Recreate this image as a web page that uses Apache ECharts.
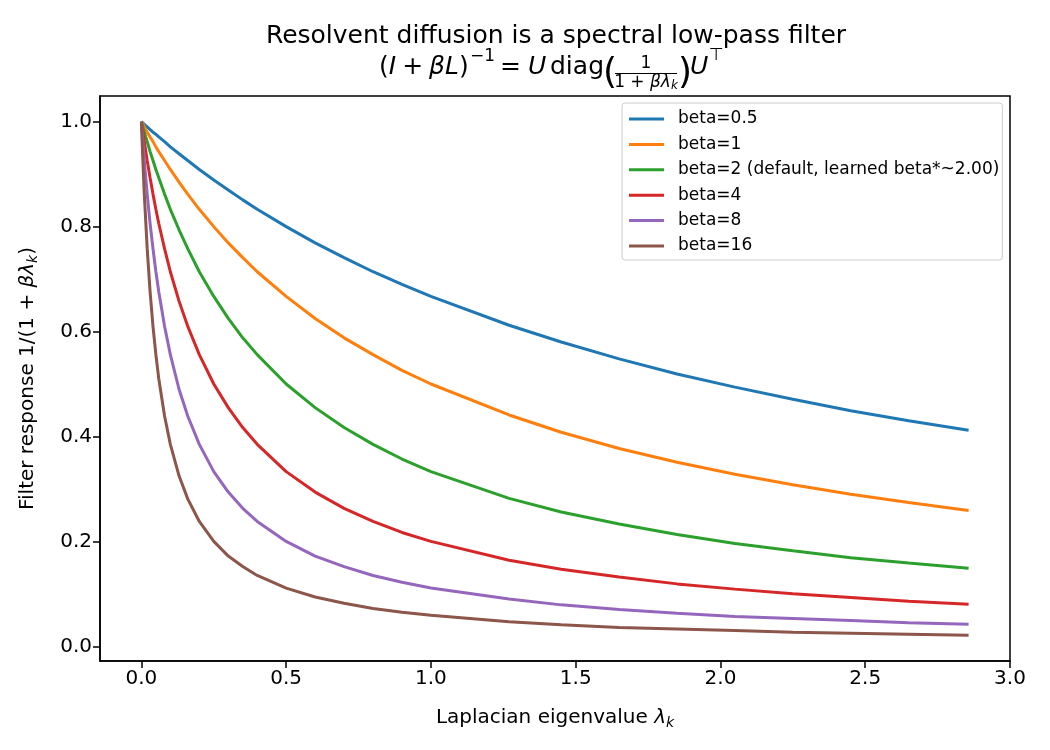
<!DOCTYPE html>
<html>
<head>
<meta charset="utf-8">
<script src="https://cdn.jsdelivr.net/npm/echarts@6/dist/echarts.min.js"></script>
<style>
html,body{margin:0;padding:0;background:#fff;}
#chart{width:1050px;height:750px;}
</style>
</head>
<body>
<div id="chart"></div>
<script>
// eigenvalues along x
var lambdas = [0, 0.005, 0.01, 0.02, 0.03, 0.04, 0.05, 0.06, 0.08, 0.1, 0.13, 0.16, 0.2, 0.25, 0.3, 0.35, 0.4, 0.5, 0.6, 0.7, 0.8, 0.9, 1.0, 1.27, 1.45, 1.65, 1.85, 2.05, 2.25, 2.45, 2.65, 2.857];
// filter response per beta
var beta05 = [1, 0.998, 0.995, 0.990, 0.985, 0.980, 0.976, 0.971, 0.962, 0.952, 0.939, 0.926, 0.909, 0.889, 0.870, 0.851, 0.833, 0.800, 0.769, 0.741, 0.714, 0.690, 0.667, 0.612, 0.580, 0.548, 0.519, 0.494, 0.471, 0.449, 0.430, 0.412];
var beta1 = [1, 0.995, 0.990, 0.980, 0.971, 0.962, 0.952, 0.943, 0.926, 0.909, 0.885, 0.862, 0.833, 0.800, 0.769, 0.741, 0.714, 0.667, 0.625, 0.588, 0.556, 0.526, 0.500, 0.441, 0.408, 0.377, 0.351, 0.328, 0.308, 0.290, 0.274, 0.259];
var beta2 = [1, 0.990, 0.980, 0.962, 0.943, 0.926, 0.909, 0.893, 0.862, 0.833, 0.794, 0.758, 0.714, 0.667, 0.625, 0.588, 0.556, 0.500, 0.455, 0.417, 0.385, 0.357, 0.333, 0.282, 0.256, 0.233, 0.213, 0.196, 0.182, 0.169, 0.159, 0.149];
var beta4 = [1, 0.980, 0.962, 0.926, 0.893, 0.862, 0.833, 0.806, 0.758, 0.714, 0.658, 0.610, 0.556, 0.500, 0.455, 0.417, 0.385, 0.333, 0.294, 0.263, 0.238, 0.217, 0.200, 0.164, 0.147, 0.132, 0.119, 0.109, 0.100, 0.093, 0.086, 0.080];
var beta8 = [1, 0.962, 0.926, 0.862, 0.806, 0.758, 0.714, 0.676, 0.610, 0.556, 0.490, 0.439, 0.385, 0.333, 0.294, 0.263, 0.238, 0.200, 0.172, 0.152, 0.135, 0.122, 0.111, 0.090, 0.079, 0.070, 0.063, 0.057, 0.053, 0.049, 0.045, 0.042];
var beta16 = [1, 0.926, 0.862, 0.758, 0.676, 0.610, 0.556, 0.510, 0.439, 0.385, 0.325, 0.281, 0.238, 0.200, 0.172, 0.152, 0.135, 0.111, 0.094, 0.082, 0.072, 0.065, 0.059, 0.047, 0.041, 0.036, 0.033, 0.030, 0.027, 0.025, 0.023, 0.021];

var seriesNames = ['beta=0.5', 'beta=1', 'beta=2 (default, learned beta*~2.00)', 'beta=4', 'beta=8', 'beta=16'];
var seriesValues = [beta05, beta1, beta2, beta4, beta8, beta16];
var colors = ['#1f77b4', '#ff7f0e', '#2ca02c', '#d62728', '#9467bd', '#8c564b'];
var xTicks = [0, 0.5, 1.0, 1.5, 2.0, 2.5, 3.0];
var yTicks = [0, 0.2, 0.4, 0.6, 0.8, 1.0];

var FONT = 'DejaVu Sans';
var chart = echarts.init(document.getElementById('chart'));

var series = [];
for (var s = 0; s < seriesNames.length; s++) {
  var pts = [];
  for (var i = 0; i < lambdas.length; i++) {
    pts.push([lambdas[i], seriesValues[s][i]]);
  }
  series.push({
    name: seriesNames[s],
    type: 'line',
    data: pts,
    showSymbol: false,
    smooth: false,
    lineStyle: {width: 3, color: colors[s]},
    itemStyle: {color: colors[s]}
  });
}

var italic = {fontFamily: FONT, fontStyle: 'italic', fontSize: 20, color: '#000'};
var sub = {fontFamily: FONT, fontStyle: 'italic', fontSize: 14, color: '#000', padding: [10, 0, 0, 0]};

// small helper for the math pieces of the title's 2nd line
function mtext(x, y, text, size, opts) {
  opts = opts || {};
  return {type: 'text', x: x, y: y, style: {
    text: text,
    font: (opts.italic ? 'italic ' : '') + size + 'px "DejaVu Sans"',
    fill: '#000',
    textAlign: opts.align || 'left',
    textVerticalAlign: 'middle',
    rich: opts.rich
  }};
}

chart.setOption({
  animation: false,
  backgroundColor: '#fff',
  color: colors,
  textStyle: {fontFamily: FONT},
  grid: {left: 100, right: 40, top: 96, bottom: 89, show: true, borderColor: '#000', borderWidth: 1.5, backgroundColor: 'transparent'},
  legend: {
    data: seriesNames,
    orient: 'vertical',
    left: 622,
    top: 103,
    icon: 'rect',
    itemWidth: 35,
    itemHeight: 3,
    itemGap: 5.4,
    padding: [6, 3, 4, 7],
    borderColor: '#cccccc',
    borderWidth: 1,
    borderRadius: 3,
    backgroundColor: 'rgba(255,255,255,0.8)',
    textStyle: {fontFamily: FONT, fontSize: 17, color: '#000', lineHeight: 20, padding: [0, 0, 0, 9]}
  },
  xAxis: {
    type: 'value',
    min: -0.143,
    max: 3.0,
    splitLine: {show: false},
    axisLine: {show: true, onZero: false, lineStyle: {color: '#000', width: 1.5}},
    axisTick: {show: true, length: 7, customValues: xTicks, lineStyle: {color: '#000', width: 1.5}},
    axisLabel: {customValues: xTicks, fontSize: 20, color: '#000', margin: 8, fontFamily: FONT,
      formatter: function (v) { return v.toFixed(1); }},
    name: 'Laplacian eigenvalue {i|λ}{s|k}',
    nameLocation: 'middle',
    nameGap: 45,
    nameTextStyle: {fontFamily: FONT, fontSize: 20, color: '#000', rich: {i: italic, s: sub}}
  },
  yAxis: {
    type: 'value',
    min: -0.028,
    max: 1.049,
    splitLine: {show: false},
    axisLine: {show: true, onZero: false, lineStyle: {color: '#000', width: 1.5}},
    axisTick: {show: true, length: 7, customValues: yTicks, lineStyle: {color: '#000', width: 1.5}},
    axisLabel: {customValues: yTicks, fontSize: 20, color: '#000', margin: 8, fontFamily: FONT,
      formatter: function (v) { return v.toFixed(1); }},
    name: 'Filter response 1/(1 + {i|βλ}{s|k})',
    nameLocation: 'middle',
    nameGap: 60,
    nameTextStyle: {fontFamily: FONT, fontSize: 20, color: '#000', rich: {i: italic, s: sub}}
  },
  graphic: [
    mtext(556, 36, 'Resolvent diffusion is a spectral low-pass filter', 25, {align: 'center'}),
    mtext(379, 67, '({i|I}{op|+}{i|βL})', 25, {rich: {
      i: {fontFamily: FONT, fontStyle: 'italic', fontSize: 25, fill: '#000'},
      op: {fontFamily: FONT, fontSize: 25, fill: '#000', padding: [0, 6, 0, 6]}}}),
    mtext(470, 57, '−1', 17),
    mtext(500, 67, '=', 25),
    mtext(528, 67, 'U', 25, {italic: true}),
    mtext(550, 67, 'diag', 25),
    mtext(603, 74, '(', 36),
    mtext(646, 64, '1', 17, {align: 'center'}),
    {type: 'line', shape: {x1: 615, y1: 73.5, x2: 677, y2: 73.5}, style: {stroke: '#000', lineWidth: 1.2}},
    mtext(646, 83, '1 + {i|βλ}{s|k}', 17, {align: 'center', rich: {
      i: {fontFamily: FONT, fontStyle: 'italic', fontSize: 17, fill: '#000'},
      s: {fontFamily: FONT, fontStyle: 'italic', fontSize: 12, fill: '#000', padding: [6, 0, 0, 0]}}}),
    mtext(678, 74, ')', 36),
    mtext(690, 67, 'U', 25, {italic: true}),
    mtext(709, 56, '⊤', 17)
  ],
  series: series
});
</script>
</body>
</html>
